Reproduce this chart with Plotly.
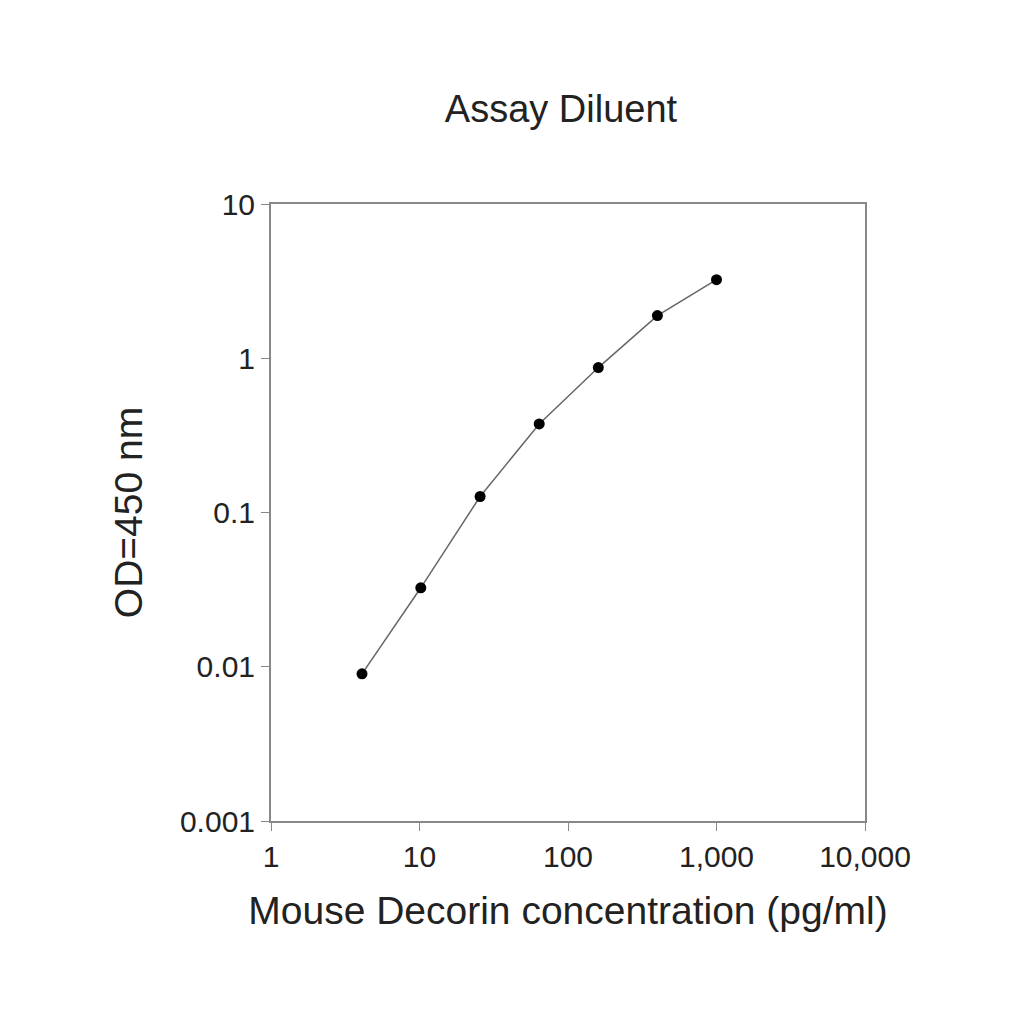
import plotly.graph_objects as go

concentration = [4.1, 10.2, 25.6, 64, 160, 400, 1000]
od450 = [0.009, 0.0325, 0.127, 0.375, 0.87, 1.89, 3.23]

x_ticks = [1, 10, 100, 1000, 10000]
x_labels = ["1", "10", "100", "1,000", "10,000"]
y_ticks = [0.001, 0.01, 0.1, 1, 10]
y_labels = ["0.001", "0.01", "0.1", "1", "10"]

fig = go.Figure()
fig.add_trace(go.Scatter(
    x=concentration, y=od450, mode="lines+markers",
    line=dict(color="#666666", width=1.5),
    marker=dict(color="black", size=11),
))

fig.update_layout(
    width=1024, height=1024,
    plot_bgcolor="white", paper_bgcolor="white",
    font=dict(family="Liberation Sans", size=30, color="#222222"),
    title=dict(text="Assay Diluent", x=0.54, y=0.915, xanchor="center",
               font=dict(size=38)),
    margin=dict(l=263, r=167, t=196, b=211),
    showlegend=False,
)
fig.update_xaxes(
    type="log", range=[0, 4], tickvals=x_ticks, ticktext=x_labels,
    showline=True, linecolor="#888888", linewidth=2, mirror=True,
    ticks="outside", ticklen=8, tickcolor="#888888", showgrid=False,
    title=dict(text="Mouse Decorin concentration (pg/ml)", font=dict(size=39), standoff=25),
)
fig.update_yaxes(
    type="log", range=[-3, 1], tickvals=y_ticks, ticktext=y_labels,
    showline=True, linecolor="#888888", linewidth=2, mirror=True,
    ticks="outside", ticklen=8, tickcolor="#888888", showgrid=False,
    title=dict(text="OD=450 nm", font=dict(size=39), standoff=25),
)

fig.write_html("out.html")
